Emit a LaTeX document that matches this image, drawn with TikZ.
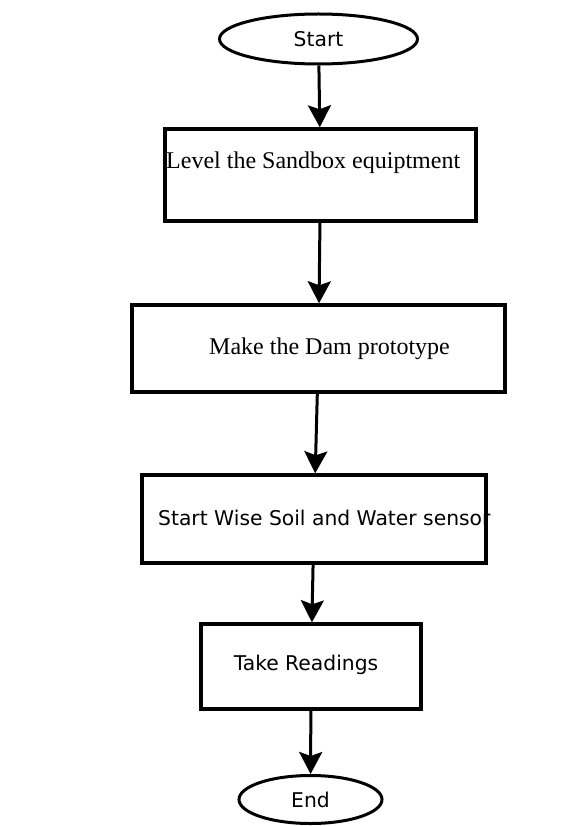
\documentclass[tikz,border=0pt]{standalone}
\usepackage{fontspec}
\setmainfont{Liberation Serif}
\newfontfamily\sansf{DejaVu Sans}
\usetikzlibrary{arrows.meta,shapes.geometric}
\tikzset{
  term/.style={ellipse, draw, line width=3pt, inner sep=0pt, font=\sansf\fontsize{20.3}{23}\selectfont},
  procbox/.style={rectangle, draw, line width=3.4pt, inner sep=0pt},
  serift/.style={inner sep=0pt, anchor=west, font=\fontsize{24}{28}\selectfont},
  sanst/.style={inner sep=0pt, anchor=west, font=\sansf\fontsize{20.3}{23}\selectfont},
  flow/.style={line width=3pt, -{Stealth[length=22pt,width=23pt,inset=4pt]}}
}
\begin{document}
\begin{tikzpicture}[x=1pt,y=-1pt]
\useasboundingbox[fill=white] (0,0) rectangle (572,826);
\node[term, minimum width=198pt, minimum height=50pt] (start) at (318.5,39) {Start};
\node[procbox, minimum width=311pt, minimum height=92pt] (b1) at (320.5,175) {};
\node[serift] (t1) at (166,163) {Level the Sandbox equiptment};
\node[procbox, minimum width=373pt, minimum height=87pt] (b2) at (318.5,348.5) {};
\node[serift] (t2) at (209,349) {Make the Dam prototype};
\node[procbox, minimum width=344pt, minimum height=88pt] (b3) at (314,519) {};
\node[sanst] (t3) at (158,518) {Start Wise Soil and Water sensor};
\node[procbox, minimum width=220pt, minimum height=85pt] (b4) at (311,666.5) {};
\node[sanst, anchor=center] (t4) at (306,665) {Take Readings};
\node[term, minimum width=143pt, minimum height=48pt] (end) at (310.5,799.5) {End};
\draw[flow] (start) -- (b1);
\draw[flow] (b1) -- (b2);
\draw[flow] (b2) -- (b3);
\draw[flow] (b3) -- (b4);
\draw[flow] (b4) -- (end);
\end{tikzpicture}
\end{document}
